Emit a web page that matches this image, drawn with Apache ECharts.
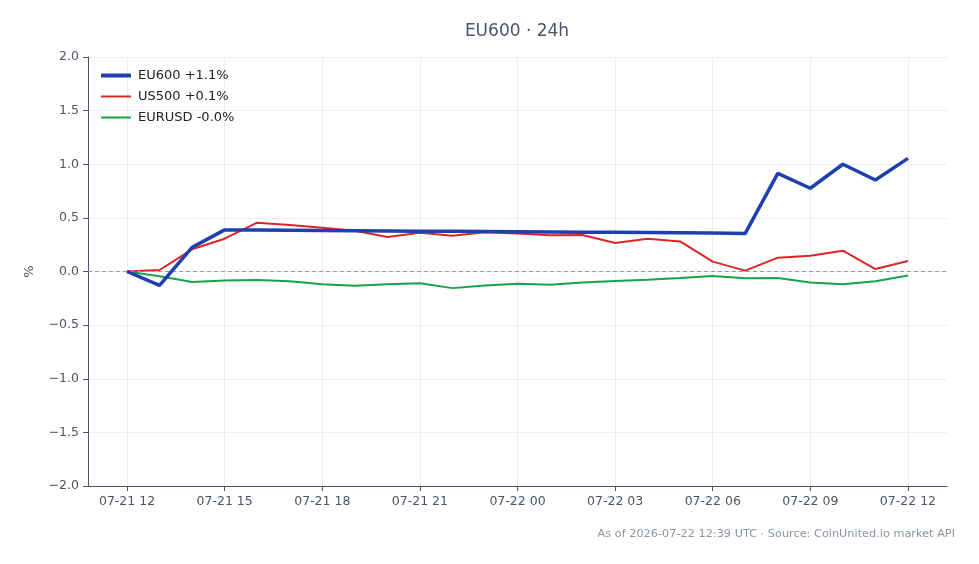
<!DOCTYPE html>
<html>
<head>
<meta charset="utf-8">
<title>EU600 · 24h</title>
<script src="https://cdn.jsdelivr.net/npm/echarts@6/dist/echarts.min.js"></script>
<style>
html, body { margin: 0; padding: 0; background: #fff; }
#chart { width: 979px; height: 564px; }
</style>
</head>
<body>
<div id="chart"></div>
<script>
// hours since 07-21 12:00 UTC
var hours = [0,1,2,3,4,5,6,7,8,9,10,11,12,13,14,15,16,17,18,19,20,21,22,23,24];
var tickHours = [0,3,6,9,12,15,18,21,24];
var tickLabels = ['07-21 12','07-21 15','07-21 18','07-21 21','07-22 00','07-22 03','07-22 06','07-22 09','07-22 12'];

var eu600 = [0,-0.13,0.225,0.388,0.386,0.384,0.382,0.38,0.378,0.376,0.375,0.373,0.371,0.369,0.367,0.365,0.363,0.361,0.358,0.355,0.915,0.776,1.0,0.853,1.055];
var us500 = [0,0.014,0.207,0.306,0.455,0.434,0.408,0.38,0.322,0.362,0.334,0.365,0.355,0.337,0.34,0.265,0.306,0.28,0.092,0.008,0.129,0.147,0.194,0.023,0.098];
var eurusd = [0,-0.045,-0.098,-0.085,-0.079,-0.09,-0.12,-0.133,-0.12,-0.11,-0.155,-0.13,-0.115,-0.124,-0.102,-0.088,-0.076,-0.061,-0.042,-0.062,-0.06,-0.102,-0.118,-0.09,-0.038];

var names = ['EU600 +1.1%','US500 +0.1%','EURUSD -0.0%'];
var colors = ['#1e40af','#dc2626','#16a34a'];

function pairs(arr){
    return hours.map(function(h, i){ return [h, arr[i]]; });
}

var myChart = echarts.init(document.getElementById('chart'));
var axisColor = '#4a5568';
var font = 'DejaVu Sans';

var option = {
    animation: false,
    textStyle: { fontFamily: font },
    graphic: [
        {
            type: 'text', x: 517, y: 32,
            style: { text: 'EU600 · 24h', fill: '#4a5568', font: '17px "DejaVu Sans"', textAlign: 'center', textVerticalAlign: 'middle' }
        },
        {
            type: 'text', x: 955, y: 534,
            style: { text: 'As of 2026-07-22 12:39 UTC · Source: CoinUnited.io market API', fill: '#8a94a6', font: '11.3px "DejaVu Sans"', textAlign: 'right', textVerticalAlign: 'middle' }
        }
    ],
    legend: {
        orient: 'vertical',
        left: 99,
        top: 69,
        padding: 0,
        itemWidth: 30,
        itemHeight: 14,
        itemGap: 8,
        itemStyle: { opacity: 0 },
        textStyle: { color: '#222', fontSize: 13, fontFamily: font, padding: [0, 0, 0, 2] },
        data: [
            { name: names[0], lineStyle: { width: 4 } },
            { name: names[1], lineStyle: { width: 2 } },
            { name: names[2], lineStyle: { width: 2 } }
        ]
    },
    grid: { left: 88, right: 32, top: 57, bottom: 78 },
    xAxis: {
        type: 'value',
        min: -1.2,
        max: 25.2,
        axisLine: { onZero: false, lineStyle: { color: axisColor, width: 1 } },
        axisTick: { show: true, length: 5, customValues: tickHours, lineStyle: { color: axisColor } },
        axisLabel: {
            customValues: tickHours,
            color: axisColor, fontSize: 12.5, margin: 9,
            formatter: function(v){ var i = tickHours.indexOf(Math.round(v)); return i >= 0 ? tickLabels[i] : ''; }
        },
        splitLine: { show: true, customValues: tickHours, lineStyle: { color: '#eceef2', width: 1 } }
    },
    yAxis: {
        type: 'value',
        min: -2,
        max: 2,
        interval: 0.5,
        name: '%',
        nameLocation: 'middle',
        nameGap: 52,
        nameTextStyle: { color: axisColor, fontSize: 13 },
        axisLine: { show: true, onZero: false, lineStyle: { color: axisColor, width: 1 } },
        axisTick: { show: true, length: 5, lineStyle: { color: axisColor } },
        axisLabel: {
            color: axisColor, fontSize: 12.5, margin: 9,
            formatter: function(v){ return v.toFixed(1).replace('-', '\u2212'); }
        },
        splitLine: { show: true, lineStyle: { color: '#eceef2', width: 1 } }
    },
    series: [
        {
            name: names[0], type: 'line', symbol: 'none', z: 5,
            lineStyle: { color: colors[0], width: 3.5 },
            itemStyle: { color: colors[0] },
            data: pairs(eu600)
        },
        {
            name: names[1], type: 'line', symbol: 'none', z: 4,
            lineStyle: { color: colors[1], width: 2 },
            itemStyle: { color: colors[1] },
            data: pairs(us500)
        },
        {
            name: names[2], type: 'line', symbol: 'none', z: 3,
            lineStyle: { color: colors[2], width: 2 },
            itemStyle: { color: colors[2] },
            data: pairs(eurusd),
            markLine: {
                silent: true,
                symbol: 'none',
                label: { show: false },
                lineStyle: { color: '#8a9bb5', type: [4, 3], width: 1 },
                data: [{ yAxis: 0 }]
            }
        }
    ]
};

myChart.setOption(option);
</script>
</body>
</html>
